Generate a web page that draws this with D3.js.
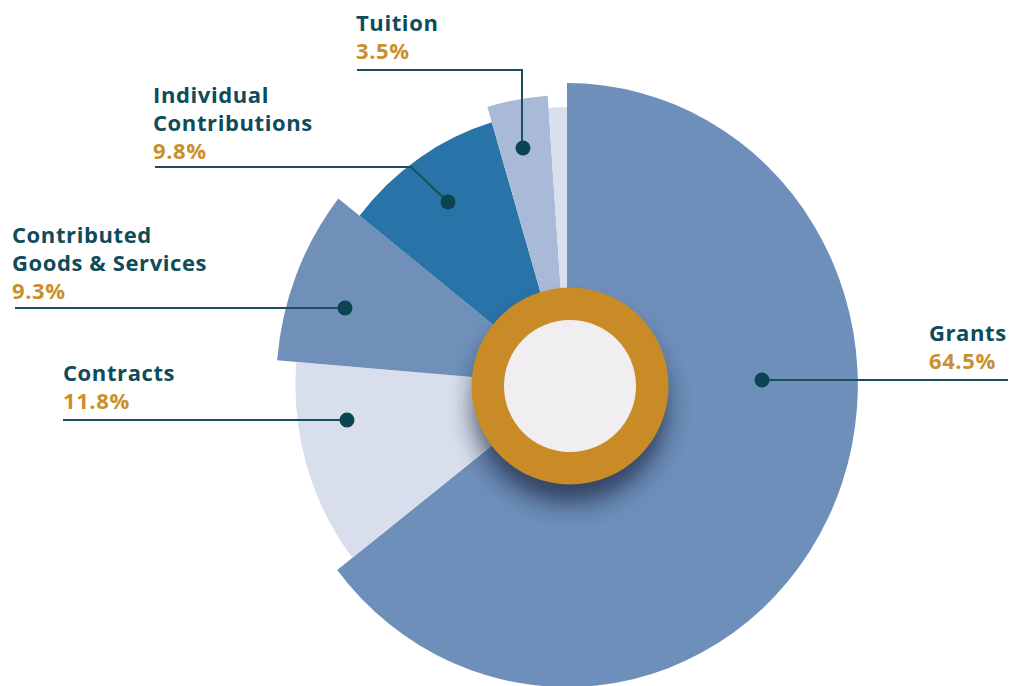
<!DOCTYPE html>
<html><head><meta charset="utf-8">
<script src="https://cdn.jsdelivr.net/npm/d3@7"></script>
<style>body{margin:0;background:#fff}svg{display:block}</style>
</head><body>
<svg id="c" width="1010" height="686"></svg>
<script>
// ---- data ----
const categories = ["Grants", "Contracts", "Contributed Goods & Services", "Individual Contributions", "Tuition", "Other"];
const values = [64.5, 11.8, 9.3, 9.8, 3.5, 1.1];
const labelLines = [["Grants"], ["Contracts"], ["Contributed", "Goods & Services"], ["Individual", "Contributions"], ["Tuition"], []];
const percentLabels = ["64.5%", "11.8%", "9.3%", "9.8%", "3.5%", ""];

// ---- style ----
const colors = ["#6e8fb9", "#d8deeb", "#7090ba", "#2873a8", "#a8bad7", "#d9dfec"];
const sliceRadius = [302, 282, 302, 274, 290, 278];
const textColor = "#0f4b59", pctColor = "#c9902c", lineColor = "#1c4f5d";
const labelLayout = [
  {x: 929, y: 341, dot: [762, 380], path: [[762, 380], [1008, 380]]},
  {x: 63,  y: 381, dot: [347, 420], path: [[63, 420], [347, 420]]},
  {x: 12,  y: 243, dot: [345, 308], path: [[15, 308], [345, 308]]},
  {x: 153, y: 103, dot: [448, 202], path: [[155, 167], [411, 167], [448, 202]]},
  {x: 356, y: 31,  dot: [523, 148], path: [[357, 70], [522, 70], [522, 148]]},
  null
];

const svg = d3.select("#c");
const defs = svg.append("defs");
const f = defs.append("filter").attr("id", "sh").attr("x", "-50%").attr("y", "-50%").attr("width", "200%").attr("height", "200%");
f.append("feGaussianBlur").attr("stdDeviation", 12);

const pie = d3.pie().sort(null).value(d => d)(values);
const radius = d3.scaleOrdinal().domain(d3.range(values.length)).range(sliceRadius);
const color = d3.scaleOrdinal().domain(categories).range(colors);

const g = svg.append("g").attr("transform", "translate(567,385) scale(0.963,1)");
g.selectAll("path").data(pie).join("path")
  .attr("d", (d, i) => d3.arc().innerRadius(0).outerRadius(radius(i))(d))
  .attr("fill", (d, i) => color(categories[i]));

// center ring
const ring = svg.append("g").attr("transform", "translate(570,386)");
ring.append("circle").attr("cx", 0).attr("cy", 20).attr("r", 97)
  .attr("fill", "#14233d").attr("opacity", 0.7).attr("filter", "url(#sh)");
ring.append("circle").attr("r", 98.5).attr("fill", "#c98b26");
ring.append("circle").attr("r", 66).attr("fill", "#f0eef0");

// labels
const lab = svg.append("g");
labelLayout.forEach((L, i) => {
  if (!L) return;
  lab.append("path").attr("d", d3.line()(L.path)).attr("fill", "none")
    .attr("stroke", lineColor).attr("stroke-width", 2);
  lab.append("circle").attr("cx", L.dot[0]).attr("cy", L.dot[1]).attr("r", 7.5).attr("fill", "#0b4552");
  const t = lab.append("text").attr("x", L.x).attr("y", L.y)
    .attr("font-family", "'Open Sans', sans-serif").attr("font-weight", 700).attr("font-size", 22)
    .attr("letter-spacing", 0.6);
  labelLines[i].forEach((s, k) => {
    t.append("tspan").attr("x", L.x).attr("dy", k === 0 ? 0 : 28).attr("fill", textColor).text(s);
  });
  t.append("tspan").attr("x", L.x).attr("dy", 28).attr("fill", pctColor).text(percentLabels[i]);
});
</script>
</body></html>
